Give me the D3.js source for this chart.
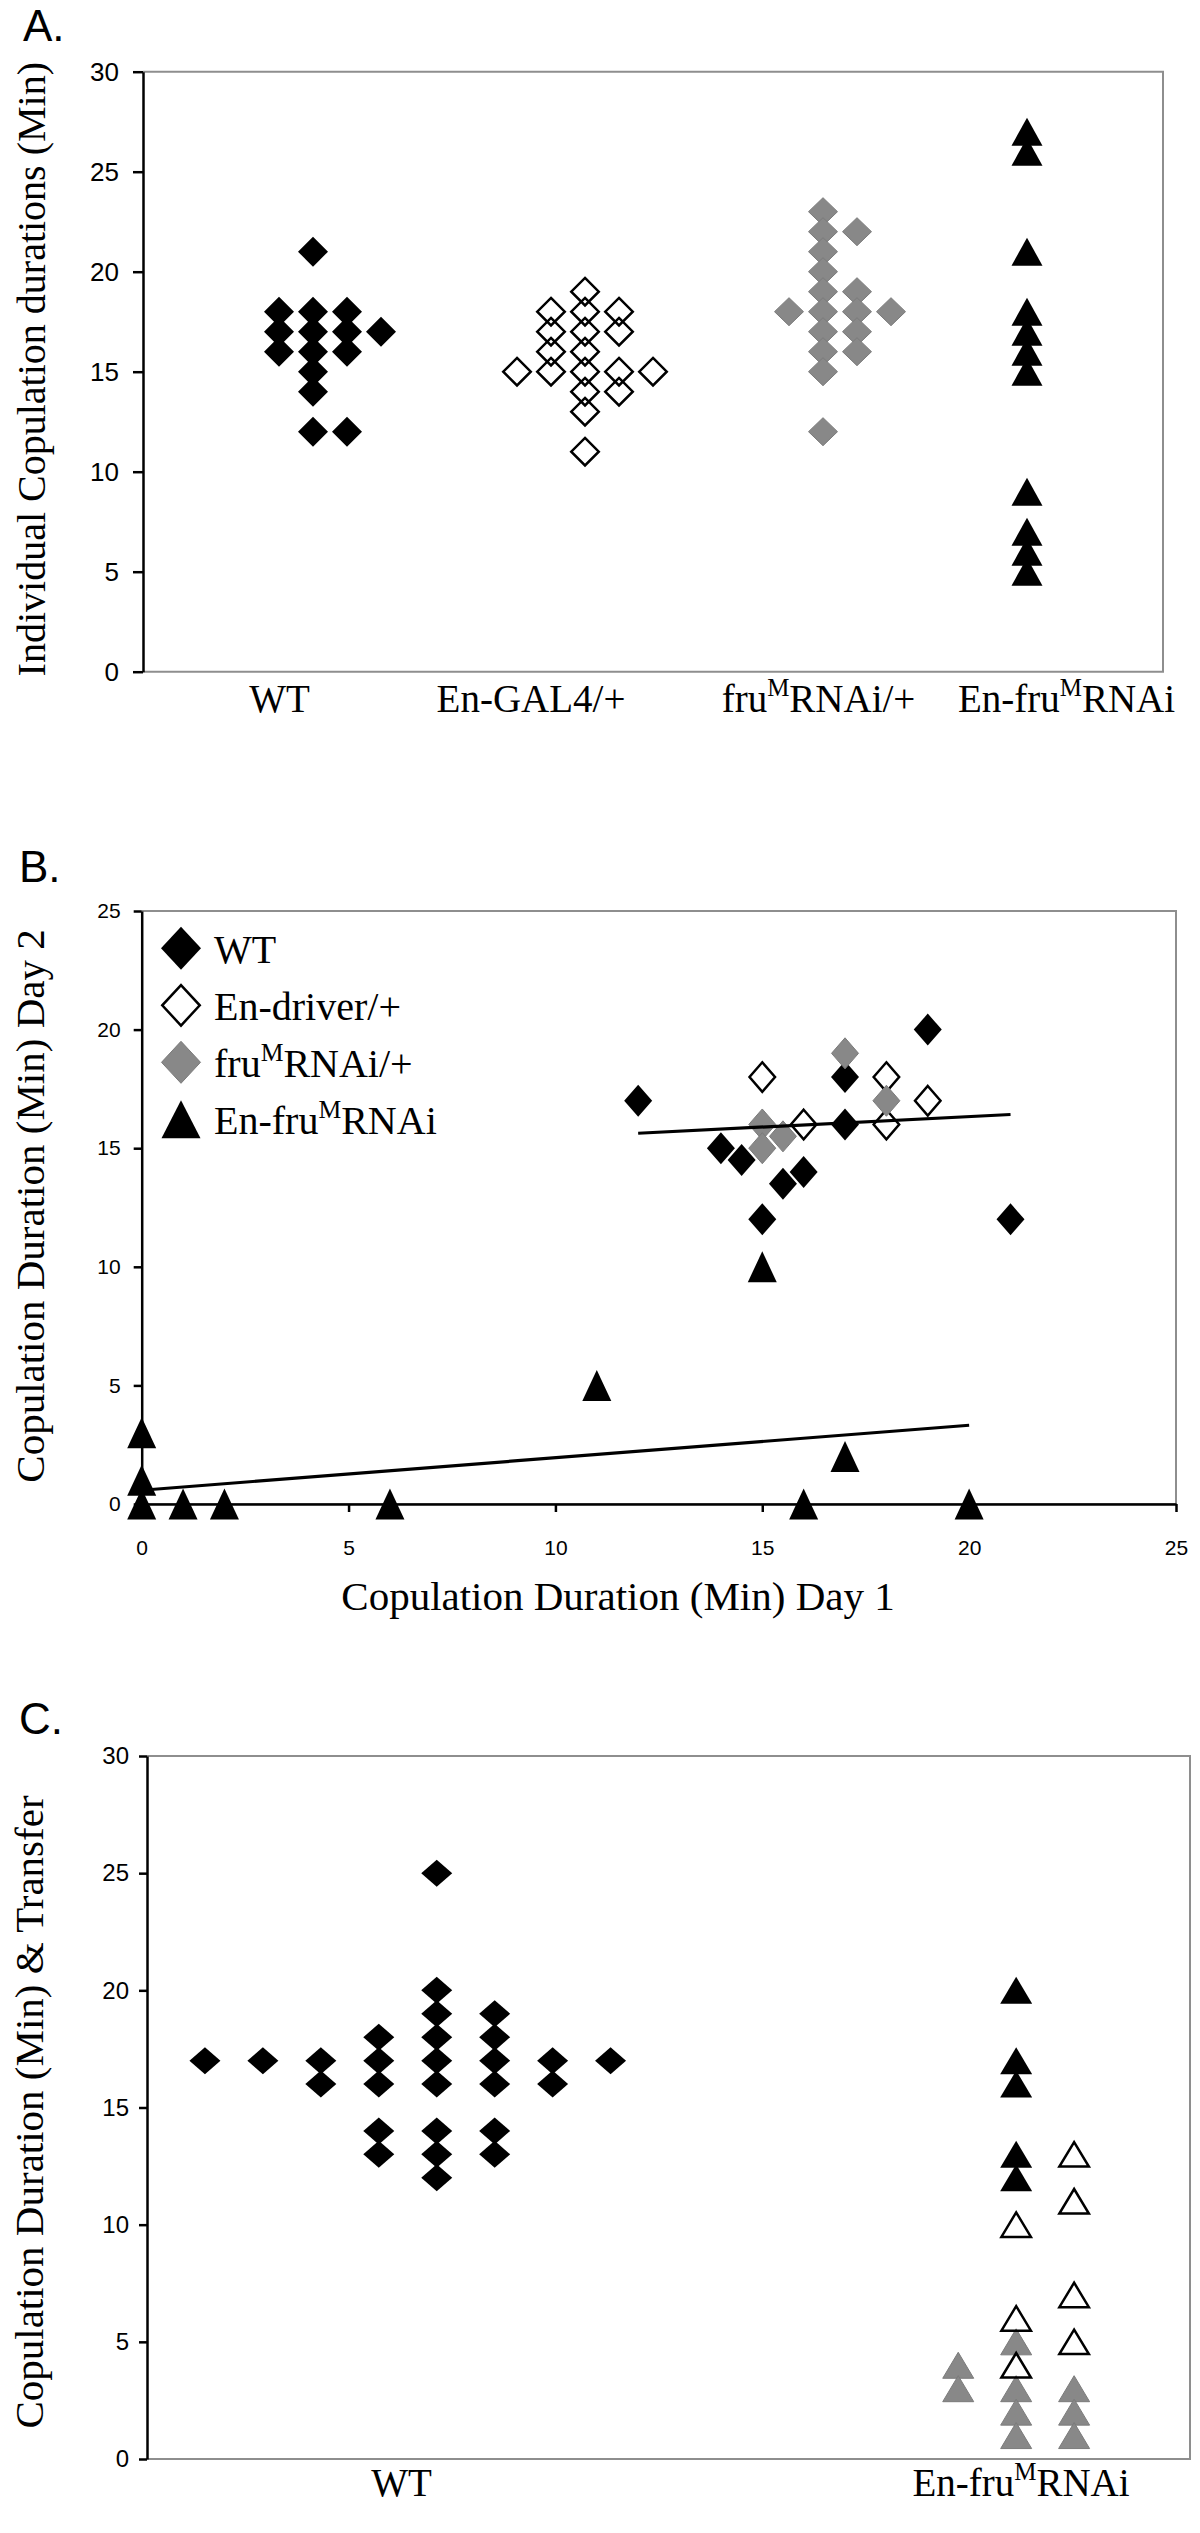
<!DOCTYPE html>
<html>
<head>
<meta charset="utf-8">
<script src="https://cdn.jsdelivr.net/npm/d3@7"></script>
<style>
html, body { margin: 0; padding: 0; background: #ffffff; }
svg { display: block; }
</style>
</head>
<body>
<svg id="fig" width="1200" height="2533"></svg>
<script>
// ---------------- DATA ----------------
// Panel A: individual copulation durations (x = dot-plot slot on a hidden 0–30 axis, y = minutes)
const aTicks = [0, 5, 10, 15, 20, 25, 30];
const aCategories = ["WT", "En-GAL4/+", "fru{M}RNAi/+", "En-fru{M}RNAi"];
const aWT = [[4,18],[4,17],[4,16],[5,21],[5,18],[5,17],[5,16],[5,15],[5,14],[5,12],[6,18],[6,17],[6,16],[6,12],[7,17]];
const aEnGal4 = [[11,15],[12,18],[12,17],[12,16],[12,15],[13,19],[13,18],[13,17],[13,16],[13,15],[13,14],[13,13],[13,11],[14,18],[14,17],[14,15],[14,14],[15,15]];
const aFru = [[19,18],[20,23],[20,22],[20,21],[20,20],[20,19],[20,18],[20,17],[20,16],[20,15],[20,12],[21,22],[21,19],[21,18],[21,17],[21,16],[22,18]];
const aEnFru = [[26,27],[26,26],[26,21],[26,18],[26,17],[26,16],[26,15],[26,9],[26,7],[26,6],[26,5]];

// Panel B: day 1 vs day 2 copulation duration (minutes)
const bTicks = [0, 5, 10, 15, 20, 25];
const bLegend = ["WT", "En-driver/+", "fru{M}RNAi/+", "En-fru{M}RNAi"];
const bWT = [[12,17],[14,15],[14.5,14.5],[15,12],[15.5,13.5],[16,14],[17,18],[17,16],[19,20],[21,12]];
const bEnDriver = [[15,18],[16,16],[18,18],[18,16],[19,17]];
const bFru = [[15,16],[15.5,15.5],[15,15],[17,19],[18,17]];
const bEnFru = [[0,3],[0,1],[0,0],[1,0],[2,0],[6,0],[11,5],[15,10],[16,0],[17,2],[20,0]];
const bTrendControls = [[12,15.63],[21,16.42]];
const bTrendEnFru = [[0,0.58],[20,3.32]];

// Panel C: copulation duration & transfer (x = dot-plot slot on a hidden 0–18 axis, y = minutes)
const cTicks = [0, 5, 10, 15, 20, 25, 30];
const cCategories = ["WT", "En-fru{M}RNAi"];
const cWT = [[1,17],[2,17],[3,17],[3,16],[4,18],[4,17],[4,16],[4,14],[4,13],[5,25],[5,20],[5,19],[5,18],[5,17],[5,16],[5,14],[5,13],[5,12],[6,19],[6,18],[6,17],[6,16],[6,14],[6,13],[7,17],[7,16],[8,17]];
const cEnFruBlack = [[15,20],[15,17],[15,16],[15,13],[15,12]];
const cEnFruOpen = [[15,10],[15,6],[15,4],[16,13],[16,11],[16,7],[16,5]];
const cEnFruGray = [[14,4],[14,3],[15,5],[15,3],[15,2],[15,1],[16,3],[16,2],[16,1]];

// ---------------- STYLE / LAYOUT ----------------
const SERIF = '"Liberation Serif","Times New Roman",serif';
const SANS = '"Liberation Sans",Arial,sans-serif';
const BORDER = "#8e8e8e";
const GRAY = "#888888";
const STY = {
  black: { fill: "#000", stroke: "none", sw: 0 },
  open:  { fill: "none", stroke: "#000", sw: 2.5 },
  gray:  { fill: GRAY, stroke: "#7b7b7b", sw: 1 }
};

const svg = d3.select("#fig");

function diamondPath(w, h) { return `M0,${-h/2}L${w/2},0L0,${h/2}L${-w/2},0Z`; }
function trianglePath(w, h) { return `M0,${-h/2}L${w/2},${h/2}L${-w/2},${h/2}Z`; }

function drawPoints(g, data, x, y, shape, w, h, st) {
  const ww = w - st.sw, hh = h - st.sw;
  g.append("g").selectAll("path").data(data).enter().append("path")
    .attr("transform", d => `translate(${x(d[0])},${y(d[1])})`)
    .attr("d", shape === "diamond" ? diamondPath(ww, hh) : trianglePath(ww, hh))
    .attr("fill", st.fill)
    .attr("stroke", st.stroke)
    .attr("stroke-width", st.sw)
    .attr("stroke-linejoin", "miter");
}

function richText(sel, str, size) {
  const parts = str.split(/(\{[^}]*\})/).filter(s => s.length);
  let raised = false;
  parts.forEach(p => {
    if (p.startsWith("{")) {
      sel.append("tspan").text(p.slice(1, -1))
        .attr("font-size", size * 0.64).attr("dy", -size * 0.40);
      raised = true;
    } else {
      const t = sel.append("tspan").text(p);
      if (raised) { t.attr("dy", size * 0.40); raised = false; }
    }
  });
}

function frame(g, x, y) {
  const [xa, xb] = x.range(), [ya, yb] = y.range();
  g.append("path")
    .attr("d", `M${xa},${yb}H${xb}V${ya}H${xa}`)
    .attr("fill", "none").attr("stroke", BORDER).attr("stroke-width", 2);
}

function styleAxis(ax, fontSize) {
  ax.select(".domain").attr("stroke", "#000").attr("stroke-width", 2.5);
  ax.selectAll(".tick line").attr("stroke", "#000").attr("stroke-width", 2.5);
  ax.selectAll(".tick text").attr("font-family", SANS).attr("font-size", fontSize).attr("fill", "#000");
}

function panelLetter(txt, x, y) {
  svg.append("text").attr("x", x).attr("y", y).text(txt)
    .attr("font-family", SANS).attr("font-size", 44).attr("fill", "#000");
}

function yTitle(txt, x, y, size, anchor) {
  svg.append("text")
    .attr("transform", `translate(${x},${y}) rotate(-90)`)
    .attr("text-anchor", anchor)
    .attr("font-family", SERIF).attr("font-size", size).attr("fill", "#000")
    .text(txt);
}

// ---------------- PANEL A ----------------
panelLetter("A.", 23, 41);
{
  const x = d3.scaleLinear().domain([0, 30]).range([143, 1163]);
  const y = d3.scaleLinear().domain([0, 30]).range([671.7, 71.7]);
  const g = svg.append("g");
  frame(g, x, y);
  const ax = g.append("g").attr("transform", `translate(${x(0)},0)`)
    .call(d3.axisLeft(y).tickValues(aTicks).tickSize(10).tickSizeOuter(0).tickPadding(14));
  styleAxis(ax, 26);

  drawPoints(g, aWT, x, y, "diamond", 30, 30, STY.black);
  drawPoints(g, aEnGal4, x, y, "diamond", 30, 30, STY.open);
  drawPoints(g, aFru, x, y, "diamond", 30, 29, STY.gray);
  drawPoints(g, aEnFru, x, y, "triangle", 31, 28, STY.black);

  const labelX = [279.5, 531, 818.5, 1066.5];
  aCategories.forEach((c, i) => {
    const t = svg.append("text").attr("x", labelX[i]).attr("y", 711.7)
      .attr("text-anchor", "middle").attr("font-family", SERIF).attr("font-size", 39).attr("fill", "#000");
    richText(t, c, 39);
  });
  yTitle("Individual Copulation durations (Min)", 45, 62, 40, "end");
}

// ---------------- PANEL B ----------------
panelLetter("B.", 19, 882);
{
  const x = d3.scaleLinear().domain([0, 25]).range([141.7, 1176]);
  const y = d3.scaleLinear().domain([0, 25]).range([1504, 911]);
  const g = svg.append("g");
  frame(g, x, y);
  const ay = g.append("g").attr("transform", `translate(${x(0)},0)`)
    .call(d3.axisLeft(y).tickValues(bTicks).tickSize(8).tickSizeOuter(0).tickPadding(13));
  styleAxis(ay, 21);
  const axb = g.append("g").attr("transform", `translate(0,${y(0)})`)
    .call(d3.axisBottom(x).tickValues(bTicks).tickSize(8).tickSizeOuter(0).tickPadding(28));
  styleAxis(axb, 21);

  drawPoints(g, bWT, x, y, "diamond", 28, 32, STY.black);
  drawPoints(g, bEnDriver, x, y, "diamond", 28, 32, STY.open);
  drawPoints(g, bFru, x, y, "diamond", 28, 32, STY.gray);
  drawPoints(g, bEnFru, x, y, "triangle", 29, 31, STY.black);

  const line = d3.line().x(d => x(d[0])).y(d => y(d[1]));
  [bTrendControls, bTrendEnFru].forEach(tr => {
    g.append("path").attr("d", line(tr)).attr("fill", "none")
      .attr("stroke", "#000").attr("stroke-width", 3.2);
  });

  // legend
  const legShapes = [["diamond", STY.black], ["diamond", STY.open], ["diamond", STY.gray], ["triangle", STY.black]];
  const legRow = i => 948.3 + i * 57;
  bLegend.forEach((name, i) => {
    const [shape, st] = legShapes[i];
    const w = shape === "diamond" ? 40 : 39, h = shape === "diamond" ? 43 : 38;
    const lg = svg.append("g");
    drawPoints(lg, [[0, 0]], v => 181, v => legRow(i), shape, w, h, st);
    const t = svg.append("text").attr("x", 214).attr("y", legRow(i) + 14.4)
      .attr("font-family", SERIF).attr("font-size", 40).attr("fill", "#000");
    richText(t, name, 40);
  });

  svg.append("text").attr("x", 618).attr("y", 1610).attr("text-anchor", "middle")
    .attr("font-family", SERIF).attr("font-size", 41).attr("fill", "#000")
    .text("Copulation Duration (Min) Day 1");
  yTitle("Copulation Duration (Min) Day 2", 44, 1206, 41, "middle");
}

// ---------------- PANEL C ----------------
panelLetter("C.", 19, 1734);
{
  const x = d3.scaleLinear().domain([0, 18]).range([147, 1190]);
  const y = d3.scaleLinear().domain([0, 30]).range([2459, 1756]);
  const g = svg.append("g");
  frame(g, x, y);
  const ax = g.append("g").attr("transform", `translate(${x(0)},0)`)
    .call(d3.axisLeft(y).tickValues(cTicks).tickSize(8).tickSizeOuter(0).tickPadding(10));
  styleAxis(ax, 24);

  drawPoints(g, cWT, x, y, "diamond", 31, 27, STY.black);
  drawPoints(g, cEnFruGray, x, y, "triangle", 32, 27, STY.gray);
  drawPoints(g, cEnFruOpen, x, y, "triangle", 32, 27, STY.open);
  drawPoints(g, cEnFruBlack, x, y, "triangle", 32, 27, STY.black);

  const labelX = [401.6, 1021];
  cCategories.forEach((c, i) => {
    const t = svg.append("text").attr("x", labelX[i]).attr("y", 2496)
      .attr("text-anchor", "middle").attr("font-family", SERIF).attr("font-size", 39).attr("fill", "#000");
    richText(t, c, 39);
  });
  yTitle("Copulation Duration (Min) & Transfer", 43, 2112, 41, "middle");
}
</script>
</body>
</html>
